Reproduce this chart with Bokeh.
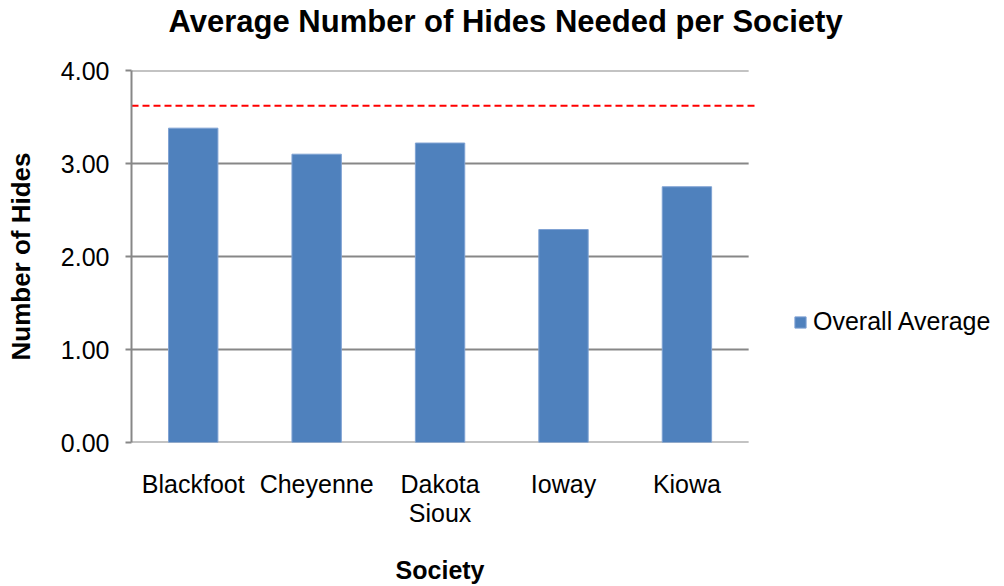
from bokeh.plotting import figure
from bokeh.models import (Legend, LegendItem, ColumnDataSource, FixedTicker, LinearAxis,
                          NumeralTickFormatter, Range1d, Title)
from bokeh.embed import file_html
from bokeh.resources import INLINE

# ---- data ----
societies = ["Blackfoot", "Cheyenne", "Dakota\nSioux", "Ioway", "Kiowa"]
overall_average = [3.38, 3.10, 3.22, 2.29, 2.75]
reference_line = 3.62
y_ticks = [0, 1, 2, 3, 4]

FONT = "Liberation Sans"
GRID = "#878787"
BAR = "#4F81BD"

n = len(societies)
# category centres on a numeric axis; two empty slots on the right hold the legend
centres = [i + 0.5 for i in range(n)]
n_total = n + 2

p = figure(x_range=Range1d(0, n_total), y_range=Range1d(0, 4), width=1004, height=586,
           output_backend="svg", toolbar_location=None, title=None,
           min_border_left=131, min_border_right=9,
           min_border_top=70, min_border_bottom=136)
p.outline_line_color = None
p.background_fill_color = "white"
p.border_fill_color = "white"

# grid lines (only across the category area; the one at 0 is the category axis line)
p.segment(x0=[0] * len(y_ticks), x1=[n] * len(y_ticks), y0=y_ticks, y1=y_ticks,
          line_color=GRID, line_width=2)

src = ColumnDataSource(dict(x=centres, top=overall_average))
r = p.vbar(x="x", top="top", width=0.4, source=src, fill_color=BAR,
           line_color="#7FA2D3", line_width=1)

# dashed reference line, extending slightly beyond the plot area
p.segment(x0=[0], x1=[n + 0.08], y0=[reference_line], y1=[reference_line],
          line_color="red", line_dash="7 4", line_width=2)

# titles: spacer first (next to the plot), then the real title above it
p.add_layout(Title(text=" ", text_font_size="1px", standoff=29), "above")
p.add_layout(Title(text="Average Number of Hides Needed per Society",
                   text_font=FONT, text_font_size="31px", text_font_style="bold",
                   text_color="black", align="left", offset=37, standoff=0), "above")

# y axis
ya = p.yaxis[0]
ya.ticker = FixedTicker(ticks=y_ticks)
ya.formatter = NumeralTickFormatter(format="0.00")
ya.axis_line_color = GRID
ya.axis_line_width = 2
ya.major_tick_line_color = GRID
ya.major_tick_line_width = 2
ya.major_tick_out = 6
ya.major_tick_in = 0
ya.minor_tick_line_color = None
ya.major_label_text_font = FONT
ya.major_label_text_font_size = "25px"
ya.major_label_text_color = "black"
ya.major_label_standoff = 16
ya.axis_label = "Number of Hides"
ya.axis_label_text_font = FONT
ya.axis_label_text_font_size = "26px"
ya.axis_label_text_font_style = "bold"
ya.axis_label_text_color = "black"
ya.axis_label_standoff = 22

# x axis (category names at the category centres)
xa = p.xaxis[0]
xa.ticker = FixedTicker(ticks=centres)
xa.major_label_overrides = {c: s for c, s in zip(centres, societies)}
xa.axis_line_color = None
xa.major_tick_line_color = None
xa.minor_tick_line_color = None
xa.major_label_text_font = FONT
xa.major_label_text_font_size = "25px"
xa.major_label_text_color = "black"
xa.major_label_standoff = 21
xa.major_label_text_line_height = 1.05

# x axis title, centred under the category area (second axis below the first)
x_title_pos = n / 2
xt = LinearAxis(ticker=FixedTicker(ticks=[x_title_pos]),
                major_label_overrides={x_title_pos: "Society"},
                axis_line_color=None, major_tick_line_color=None, minor_tick_line_color=None,
                major_label_text_font=FONT, major_label_text_font_size="25px",
                major_label_text_font_style="bold", major_label_text_color="black",
                major_label_standoff=20)
p.add_layout(xt, "below")

p.xgrid.grid_line_color = None
p.ygrid.grid_line_color = None

legend = Legend(items=[LegendItem(label="Overall Average", renderers=[r])],
                location=(662, 106), padding=0, margin=0, spacing=0,
                glyph_width=14, glyph_height=14, label_height=24,
                label_standoff=6,
                label_text_font=FONT, label_text_font_size="25px",
                label_text_color="black",
                border_line_color=None, background_fill_alpha=0)
p.add_layout(legend, "center")

open("out.html", "w").write(file_html(p, INLINE))
